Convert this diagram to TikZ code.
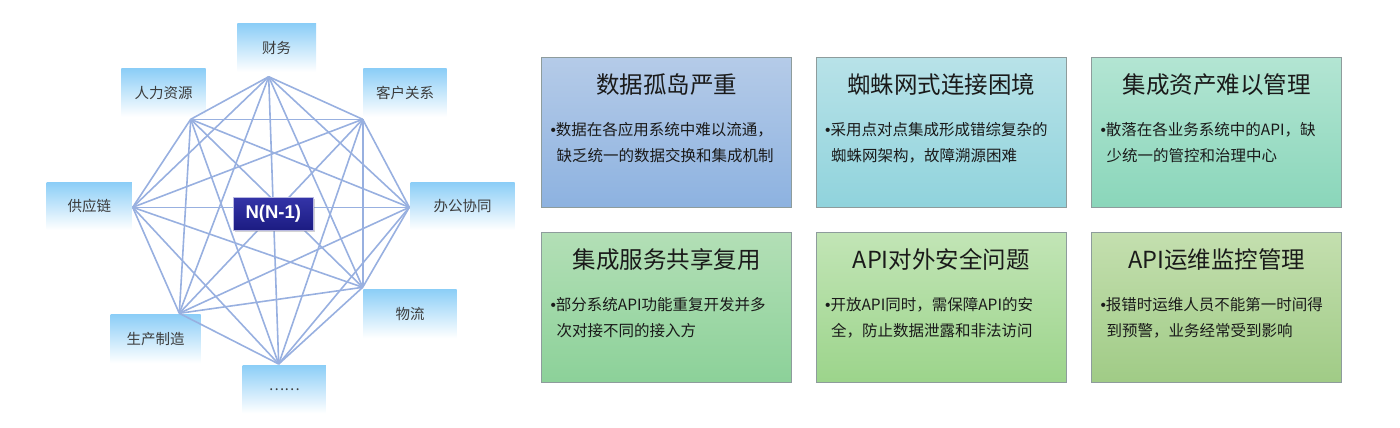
\documentclass[tikz,border=0pt]{standalone}
\usepackage{fontspec}
\setmainfont{Noto Sans CJK SC}
\newfontfamily\latinf{Liberation Sans}
\usetikzlibrary{shadows}
\definecolor{edgec}{HTML}{98B0E0}
\definecolor{lblblue}{HTML}{8CCEF7}
\definecolor{pborder}{HTML}{8E9C9C}
\definecolor{pAt}{HTML}{B5CBE8}\definecolor{pAb}{HTML}{8DB2E0}
\definecolor{pBt}{HTML}{B8E2E8}\definecolor{pBb}{HTML}{90D3DC}
\definecolor{pCt}{HTML}{B3E5D3}\definecolor{pCb}{HTML}{8AD6BA}
\definecolor{pDt}{HTML}{B3DFB6}\definecolor{pDb}{HTML}{8CD199}
\definecolor{pEt}{HTML}{C2E5B6}\definecolor{pEb}{HTML}{9CD48B}
\definecolor{pFt}{HTML}{C4DFAF}\definecolor{pFb}{HTML}{A0CB86}
\definecolor{nbtop}{HTML}{3434A8}\definecolor{nbbot}{HTML}{1C1C82}
\definecolor{txt}{HTML}{1A1A1A}
\tikzset{
  edge/.style={draw=edgec, line width=1.6pt},
  lbl/.style={top color=lblblue, bottom color=white, inner sep=0pt,
    text=txt!85, font=\fontsize{14.5}{16}\selectfont},
  panel/.style={draw=pborder, line width=0.8pt, minimum width=250pt,
    minimum height=150pt, inner sep=0pt},
  ttl/.style={inner sep=0pt, text=txt, font=\fontsize{23.5}{26}\selectfont},
  body/.style={inner sep=0pt, text=txt, font=\fontsize{15.5}{18}\selectfont},
  nbox/.style={draw=nbtop!35!white, line width=1pt, top color=nbtop, bottom color=nbbot,
    minimum width=80pt, minimum height=33pt, inner sep=0pt, text=white,
    font=\latinf\bfseries\fontsize{18.5}{20}\selectfont,
    drop shadow={opacity=0.35, shadow xshift=1.5pt, shadow yshift=-1.5pt}}
}
\newcommand{\infopanel}[8]{%
  \node[panel, top color=#4, bottom color=#5] (#1) at (#2,#3) {};
  \node[ttl, anchor=base] (#1t) at ([yshift=-36.6pt]#1.north) {#6};
  \node[body, anchor=base west] (#1a) at ([xshift=9pt,yshift=-78.6pt]#1.north west) {{\latinf •}#7};
  \node[body, anchor=base west] (#1b) at ([xshift=15pt,yshift=-104.6pt]#1.north west) {#8};
}
\begin{document}
\begin{tikzpicture}[x=1pt,y=-1pt]
\useasboundingbox (0,0) rectangle (1400,428);
% octagon vertices
\coordinate (v1) at (268.7,76.7);
\coordinate (v2) at (362.7,119.3);
\coordinate (v3) at (409.3,207.3);
\coordinate (v4) at (362.7,287.3);
\coordinate (v5) at (278.7,364);
\coordinate (v6) at (179.3,313.3);
\coordinate (v7) at (132.7,207.3);
\coordinate (v8) at (190.7,119.3);
% labels
\node[lbl, minimum width=78.7pt, minimum height=47.7pt] (l1) at (276.7,47.8) {财务};
\node[lbl, minimum width=84.3pt, minimum height=47.7pt] (l8) at (163.5,92.8) {人力资源};
\node[lbl, minimum width=83.3pt, minimum height=47.7pt] (l2) at (405,92.8) {客户关系};
\node[lbl, minimum width=85.3pt, minimum height=47.3pt] (l7) at (89.3,206.3) {供应链};
\node[lbl, minimum width=104pt, minimum height=47.3pt] (l3) at (462.7,206.3) {办公协同};
\node[lbl, minimum width=93.3pt, minimum height=49pt] (l4) at (410,313.8) {物流};
\node[lbl, minimum width=90pt, minimum height=48.6pt] (l6) at (155.7,339) {生产制造};
\node[lbl, minimum width=83.3pt, minimum height=48pt] (l5) at (284.3,389.3) {……};
% complete graph
\foreach \i [evaluate=\i as \n using int(\i+1)] in {1,...,7}{
  \foreach \j in {\n,...,8}{
    \draw[edge] (v\i) -- (v\j);
  }
}
\node[nbox] (nn) at (273.3,213.5) {N(N-1)};
% panels
\infopanel{p1}{666.7}{132.3}{pAt}{pAb}{数据孤岛严重}{数据在各应用系统中难以流通，}{缺乏统一的数据交换和集成机制}
\infopanel{p2}{941.3}{132.3}{pBt}{pBb}{蜘蛛网式连接困境}{采用点对点集成形成错综复杂的}{蜘蛛网架构，故障溯源困难}
\infopanel{p3}{1216.7}{132.3}{pCt}{pCb}{集成资产难以管理}{散落在各业务系统中的API，缺}{少统一的管控和治理中心}
\infopanel{p4}{666.7}{307.3}{pDt}{pDb}{集成服务共享复用}{部分系统API功能重复开发并多}{次对接不同的接入方}
\infopanel{p5}{941.3}{307.3}{pEt}{pEb}{API对外安全问题}{开放API同时，需保障API的安}{全，防止数据泄露和非法访问}
\infopanel{p6}{1216.7}{307.3}{pFt}{pFb}{API运维监控管理}{报错时运维人员不能第一时间得}{到预警，业务经常受到影响}
\end{tikzpicture}
\end{document}
